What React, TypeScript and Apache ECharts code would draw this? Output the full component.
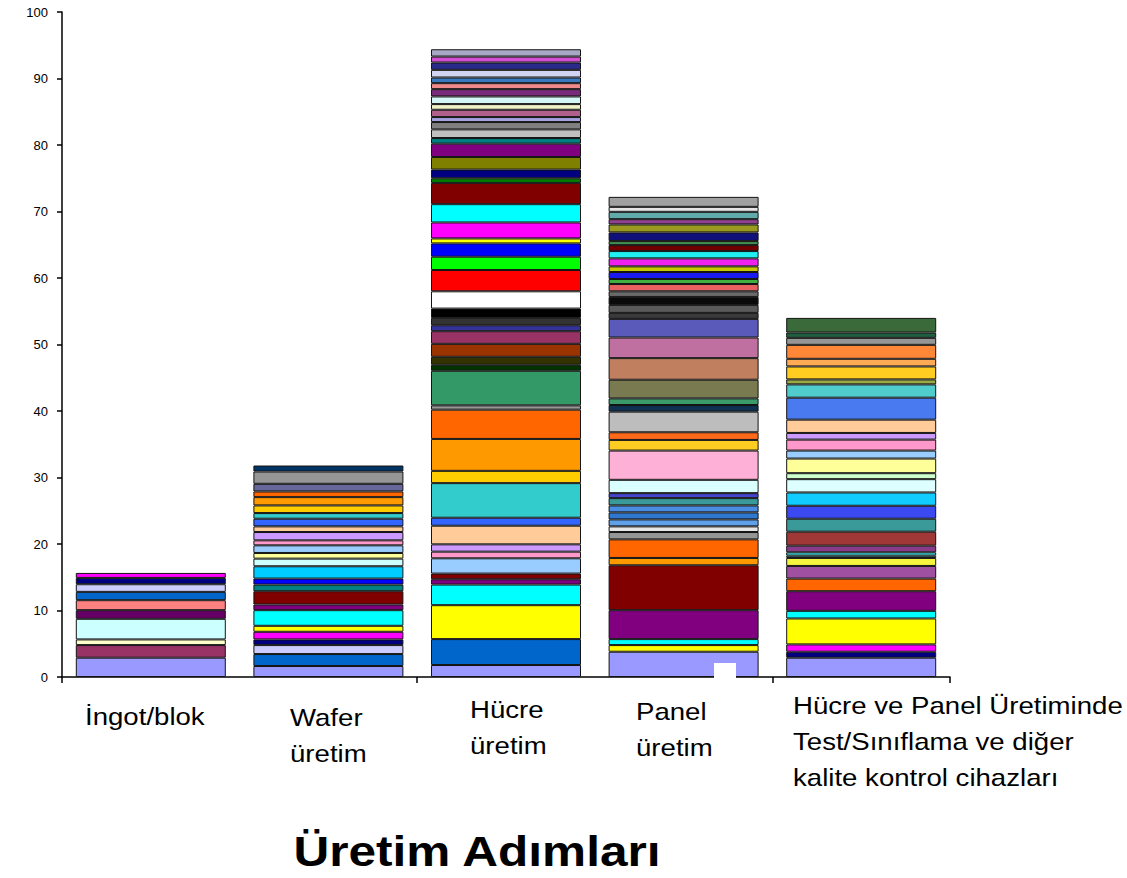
import { useEffect, useRef } from 'react';
import * as echarts from 'echarts';

// Production steps along the x axis
const CATEGORIES = [
  'İngot/blok',
  'Wafer\nüretim',
  'Hücre\nüretim',
  'Panel\nüretim',
  'Hücre ve Panel Üretiminde\nTest/Sınıflama ve diğer\nkalite kontrol cihazları',
];

// Stacked segment values (bottom to top) for each step
const INGOT_VALUES = [2.9, 1.9, 0.85, 3.1, 1.3, 1.5, 1.25, 1.15, 0.95, 0.75];
const WAFER_VALUES = [
  1.65, 1.8, 1.35, 0.85, 1.15, 0.9, 2.35, 0.85, 2.0, 1.0, 0.9, 1.85, 1.15,
  0.85, 1.15, 0.75, 1.25, 0.85, 1.15, 0.85, 1.15, 1.25, 0.85, 1.15, 1.85, 0.9,
];
const HUCRE_VALUES = [
  1.8, 3.9, 5.1, 3.1, 0.8, 0.85, 2.3, 1.0, 1.1, 2.8, 1.2, 5.2, 1.85, 4.8, 4.4,
  0.65, 5.2, 0.9, 1.2, 1.95, 1.9, 0.9, 1.1, 1.4, 2.6, 3.2, 2.0, 2.0, 0.75, 2.4,
  2.75, 3.2, 0.7, 1.3, 1.9, 2.0, 0.85, 1.3, 1.1, 0.75, 1.1, 0.85, 1.15, 1.1,
  0.9, 0.85, 1.15, 1.1, 0.9, 1.1,
];
const PANEL_VALUES = [
  3.8, 1.0, 0.9, 4.35, 6.75, 1.1, 2.8, 1.1, 0.85, 1.05, 1.05, 1.05, 1.1, 0.75,
  2.0, 4.4, 1.6, 1.15, 3.1, 1.0, 1.0, 2.8, 3.25, 3.1, 2.8, 0.9, 1.2, 1.2, 0.85,
  1.1, 0.75, 1.05, 0.85, 1.2, 1.1, 0.9, 0.6, 1.3, 1.2, 0.8, 1.1, 0.75, 1.5,
];
const KALITE_VALUES = [
  2.9, 0.9, 1.1, 3.9, 1.15, 2.95, 1.9, 1.9, 1.2, 0.35, 0.5, 1.0, 2.1, 1.95,
  1.95, 2.0, 2.0, 0.9, 2.2, 1.2, 1.65, 1.0, 2.0, 3.3, 2.0, 0.75, 1.95, 1.15,
  2.1, 1.05, 0.8, 2.2,
];

// Fill colours of the segments, in the same order as the values
const INGOT_COLORS = [
  '#9999FF', '#993366', '#FFFFCC', '#CCFFFF', '#660066', '#FF8080', '#0066CC',
  '#CCCCFF', '#000080', '#FF00FF',
];
const WAFER_COLORS = [
  '#9999FF', '#0066CC', '#CCCCFF', '#000080', '#FF00FF', '#FFFF00', '#00FFFF',
  '#800080', '#800000', '#008080', '#0000FF', '#00CCFF', '#CCFFFF', '#FFFF99',
  '#99CCFF', '#FF99CC', '#CC99FF', '#FFCC99', '#3366FF', '#33CCCC', '#FFCC00',
  '#FF9900', '#FF6600', '#666699', '#969696', '#003366',
];
const HUCRE_COLORS = [
  '#9999FF', '#0066CC', '#FFFF00', '#00FFFF', '#800080', '#800000', '#99CCFF',
  '#FF99CC', '#CC99FF', '#FFCC99', '#3366FF', '#33CCCC', '#FFCC00', '#FF9900',
  '#FF6600', '#969696', '#339966', '#003300', '#333300', '#993300', '#993366',
  '#333399', '#333333', '#000000', '#FFFFFF', '#FF0000', '#00FF00', '#0000FF',
  '#FFFF00', '#FF00FF', '#00FFFF', '#800000', '#008000', '#000080', '#808000',
  '#800080', '#008080', '#C0C0C0', '#808080', '#A3A3E0', '#B0608A', '#F2F2C8',
  '#D6F6F6', '#7A2A7A', '#F08A8A', '#3A78C0', '#D2D2F2', '#2A2A8A', '#D24FD2',
  '#A8A8C4',
];
const PANEL_COLORS = [
  '#9999FF', '#FFFF00', '#00FFFF', '#800080', '#800000', '#FF9900', '#FF6600',
  '#969696', '#E6E6E6', '#5FA0E8', '#2F78D0', '#4A8CE0', '#3A9A9A', '#4444CC',
  '#D9FFFF', '#FFB0D6', '#FFCC22', '#FF6A1A', '#BDBDBD', '#0F3050', '#3A9A6A',
  '#7A7A50', '#C08060', '#C070A0', '#5A5ABB', '#3A3A3A', '#5A5A5A', '#0A0A0A',
  '#6A6A6A', '#E86060', '#40B040', '#1A1AF0', '#C8C800', '#F020F0', '#20F0F0',
  '#700000', '#409050', '#10107A', '#9A9A20', '#904090', '#60AAAA', '#E4E4E4',
  '#A0A0A0',
];
const KALITE_COLORS = [
  '#9999FF', '#000080', '#FF00FF', '#FFFF00', '#00FFFF', '#800080', '#FF6600',
  '#A050A0', '#F5F540', '#2E8B8B', '#40E8E8', '#8A3A8A', '#A03838', '#3A9A9A',
  '#3A4AF0', '#10CCFF', '#DDFFFF', '#CCFFCC', '#FFFF99', '#99CCFF', '#FF99CC',
  '#CC99FF', '#FFCC99', '#4A7AF0', '#50CCCC', '#99AA44', '#FFCC22', '#FFAA55',
  '#FF8838', '#969696', '#206040', '#3A6A3A',
];

const STEP_VALUES = [INGOT_VALUES, WAFER_VALUES, HUCRE_VALUES, PANEL_VALUES, KALITE_VALUES];
const STEP_COLORS = [INGOT_COLORS, WAFER_COLORS, HUCRE_COLORS, PANEL_COLORS, KALITE_COLORS];

const AXIS_TITLE = 'Üretim Adımları';

// Left edge / top of each category caption below the axis
const CAPTION_POS: [number, number][] = [
  [85, 699],
  [290, 700],
  [470, 692],
  [636, 694],
  [793, 688],
];

const FONT = '"Liberation Sans", Arial, Helvetica, sans-serif';

export default function App() {
  const ref = useRef<HTMLDivElement>(null);

  useEffect(() => {
    if (!ref.current) return;
    const chart = echarts.init(ref.current, null, { renderer: 'svg' });

    const layers = Math.max(...STEP_VALUES.map((v) => v.length));
    const series = Array.from({ length: layers }, (_, j) => ({
      type: 'bar' as const,
      stack: 'total',
      barWidth: 150,
      emphasis: { disabled: true },
      itemStyle: { borderColor: '#141414', borderWidth: 1 },
      data: STEP_VALUES.map((vals, c) =>
        j < vals.length
          ? { value: vals[j], itemStyle: { color: STEP_COLORS[c][j] } }
          : '-'
      ),
    }));

    const captions = CATEGORIES.map((name, i) => ({
      type: 'text' as const,
      x: CAPTION_POS[i][0],
      y: CAPTION_POS[i][1],
      scaleX: 1.15,
      style: {
        text: name,
        x: 0,
        y: 0,
        font: `24px ${FONT}`,
        fill: '#000',
        align: 'left',
        verticalAlign: 'top',
        lineHeight: 36,
      },
    }));

    chart.setOption({
      animation: false,
      backgroundColor: '#fff',
      grid: { left: 62, top: 12, width: 888, height: 665 },
      xAxis: {
        type: 'category',
        data: CATEGORIES,
        axisLine: { show: true, lineStyle: { color: '#000', width: 1.5 } },
        axisTick: { show: true, length: 6, lineStyle: { color: '#000', width: 1.5 } },
        axisLabel: { show: false },
        splitLine: { show: false },
      },
      yAxis: {
        type: 'value',
        min: 0,
        max: 100,
        interval: 10,
        axisLine: { show: true, lineStyle: { color: '#000', width: 1.5 } },
        axisTick: { show: true, length: 5, lineStyle: { color: '#000', width: 1.5 } },
        axisLabel: { color: '#000', fontSize: 13, fontFamily: FONT, margin: 14 },
        splitLine: { show: false },
      },
      series,
      graphic: [
        ...captions,
        {
          type: 'rect',
          z: 100,
          shape: { x: 714, y: 663, width: 22, height: 18 },
          style: { fill: '#fff' },
        },
        {
          type: 'text',
          x: 477,
          y: 851,
          scaleX: 1.18,
          style: {
            text: AXIS_TITLE,
            x: 0,
            y: 0,
            font: `bold 42px ${FONT}`,
            fill: '#000',
            align: 'center',
            verticalAlign: 'middle',
          },
        },
      ],
    });

    return () => chart.dispose();
  }, []);

  return (
    <div
      ref={ref}
      style={{ position: 'absolute', left: 0, top: 0, width: 1127, height: 878, background: '#fff' }}
    />
  );
}
